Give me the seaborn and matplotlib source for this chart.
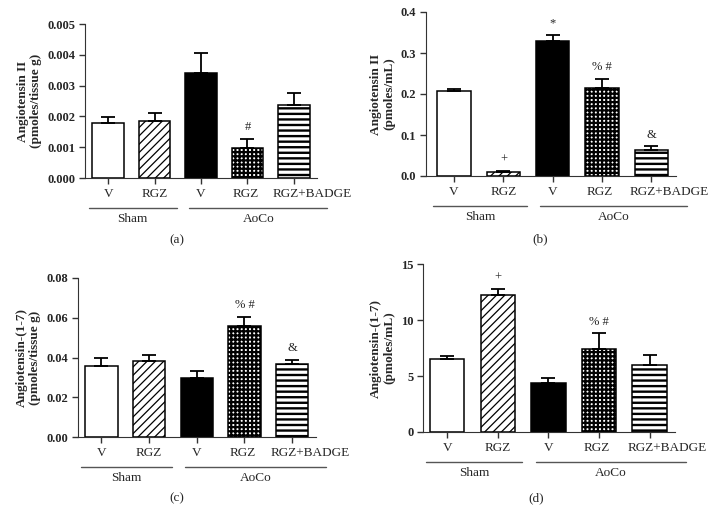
import numpy as np
import pandas as pd
import matplotlib
matplotlib.use("Agg")
import matplotlib.pyplot as plt
import matplotlib.transforms as mtransforms
import seaborn as sns

# bar labels, groups
groups = ["Sham V", "Sham RGZ", "AoCo V", "AoCo RGZ", "AoCo RGZ+BADGE"]
tick_labels = ["V", "RGZ", "V", "RGZ", "RGZ+BADGE"]
group_names = ["Sham", "AoCo"]

# (a) Angiotensin II, tissue
a_mean = [0.00177, 0.00184, 0.00342, 0.00098, 0.00237]
a_err = [0.00021, 0.00028, 0.00064, 0.00029, 0.00038]
a_marks = ["", "", "", "#", ""]

# (b) Angiotensin II, plasma
b_mean = [0.207, 0.009, 0.330, 0.214, 0.064]
b_err = [0.004, 0.002, 0.015, 0.023, 0.009]
b_marks = ["", "+", "*", "% #", "&"]

# (c) Angiotensin-(1-7), tissue
c_mean = [0.0355, 0.0383, 0.0296, 0.0558, 0.0367]
c_err = [0.0045, 0.0030, 0.0037, 0.0047, 0.0022]
c_marks = ["", "", "", "% #", "&"]

# (d) Angiotensin-(1-7), plasma
d_mean = [6.5, 12.2, 4.4, 7.45, 6.02]
d_err = [0.30, 0.55, 0.45, 1.35, 0.85]
d_marks = ["", "+", "", "% #", ""]

fills = ["white", "white", "black", "white", "white"]
hatches = ["", "////", "", "++++", "---"]
hatch_lw = [1.0, 0.9, 1.0, 1.6, 1.7]
label_shift = [0, 0, 0, -2, 18]  # px; the long last label sits right of its bar

sns.set_style("ticks")
plt.rcParams["font.family"] = ["Liberation Serif", "DejaVu Serif"]
plt.rcParams["axes.edgecolor"] = "#333333"

fig = plt.figure(figsize=(7.17, 5.24), dpi=100)
W, H = 717, 524


def add_axes(left, top, right, bottom):
    return fig.add_axes([left / W, 1 - bottom / H, (right - left) / W, (bottom - top) / H])


panels = [
    dict(box=(85, 24, 317, 178), mean=a_mean, err=a_err, marks=a_marks,
         ylabel="Angiotensin II\n(pmoles/tissue g)", yticks=np.arange(0, 0.0051, 0.001),
         fmt="{:.3f}", xlim=(-0.5, 4.5), letter="(a)", lpos=(177, 240)),
    dict(box=(426, 12, 676, 176), mean=b_mean, err=b_err, marks=b_marks,
         ylabel="Angiotensin II\n(pmoles/mL)", yticks=np.arange(0, 0.41, 0.1),
         fmt="{:.1f}", xlim=(-0.57, 4.5), letter="(b)", lpos=(540, 239)),
    dict(box=(78, 278, 316, 437), mean=c_mean, err=c_err, marks=c_marks,
         ylabel="Angiotensin-(1-7)\n(pmoles/tissue g)", yticks=np.arange(0, 0.081, 0.02),
         fmt="{:.2f}", xlim=(-0.49, 4.5), letter="(c)", lpos=(177, 498)),
    dict(box=(423, 264, 675, 432), mean=d_mean, err=d_err, marks=d_marks,
         ylabel="Angiotensin-(1-7)\n(pmoles/mL)", yticks=np.arange(0, 16, 5),
         fmt="{:.0f}", xlim=(-0.48, 4.5), letter="(d)", lpos=(536, 498)),
]

for p in panels:
    ax = add_axes(*p["box"])
    df = pd.DataFrame({"group": groups, "value": p["mean"]})
    sns.barplot(data=df, x="group", y="value", hue="group", palette=fills,
                order=groups, hue_order=groups, errorbar=None, width=0.68,
                edgecolor="black", linewidth=1.1, legend=False, ax=ax)
    for bar, h, lw in zip(ax.patches, hatches, hatch_lw):
        bar.set_hatch(h)
        if hasattr(bar, "set_hatch_linewidth"):
            bar.set_hatch_linewidth(lw)
    x = np.arange(len(groups))
    ax.errorbar(x, p["mean"], yerr=[np.zeros(5), p["err"]], fmt="none",
                ecolor="black", elinewidth=1.3, capsize=5, capthick=1.3, zorder=1)
    top_vals = np.array(p["mean"]) + np.array(p["err"])
    for xi, yi, m in zip(x, top_vals, p["marks"]):
        if m:
            ax.annotate(m, (xi, yi), xytext=(0, 4), textcoords="offset points",
                        ha="center", va="bottom", fontsize=9)

    ax.set_xlim(*p["xlim"])
    ax.set_ylim(0, p["yticks"][-1])
    ax.set_yticks(p["yticks"])
    ax.set_yticklabels([p["fmt"].format(v) for v in p["yticks"]],
                       fontweight="bold", fontsize=9)
    ax.set_xticks(x)
    ax.set_xticklabels([""] * len(x))
    ax.tick_params(axis="both", length=4, width=1, color="#333333", pad=3)
    ax.set_xlabel("")
    ax.set_ylabel(p["ylabel"], fontweight="bold", fontsize=9.5, linespacing=1.1)
    sns.despine(ax=ax)

    # category labels drawn as text so the long one can sit off-centre
    for xi, lab, dx in zip(x, tick_labels, label_shift):
        tr = mtransforms.offset_copy(ax.get_xaxis_transform(), fig=fig, x=dx, y=-16, units="dots")
        ax.text(xi, 0, lab, transform=tr, ha="center", va="center", fontsize=9.5)

    # group lines and names below the tick labels
    line_tr = mtransforms.offset_copy(ax.get_xaxis_transform(), fig=fig, y=-30, units="dots")
    text_tr = mtransforms.offset_copy(ax.get_xaxis_transform(), fig=fig, y=-41, units="dots")
    for name, (x0, x1) in zip(group_names, [(-0.42, 1.48), (1.75, 4.72)]):
        ax.plot([x0, x1], [0, 0], color="#555555", lw=1, transform=line_tr, clip_on=False)
        ax.text((x0 + x1) / 2, 0, name, transform=text_tr, ha="center", va="center", fontsize=9.5)

    fig.text(p["lpos"][0] / W, 1 - p["lpos"][1] / H, p["letter"], ha="center", va="center", fontsize=9.5)

fig.savefig("out.png", dpi=100)
